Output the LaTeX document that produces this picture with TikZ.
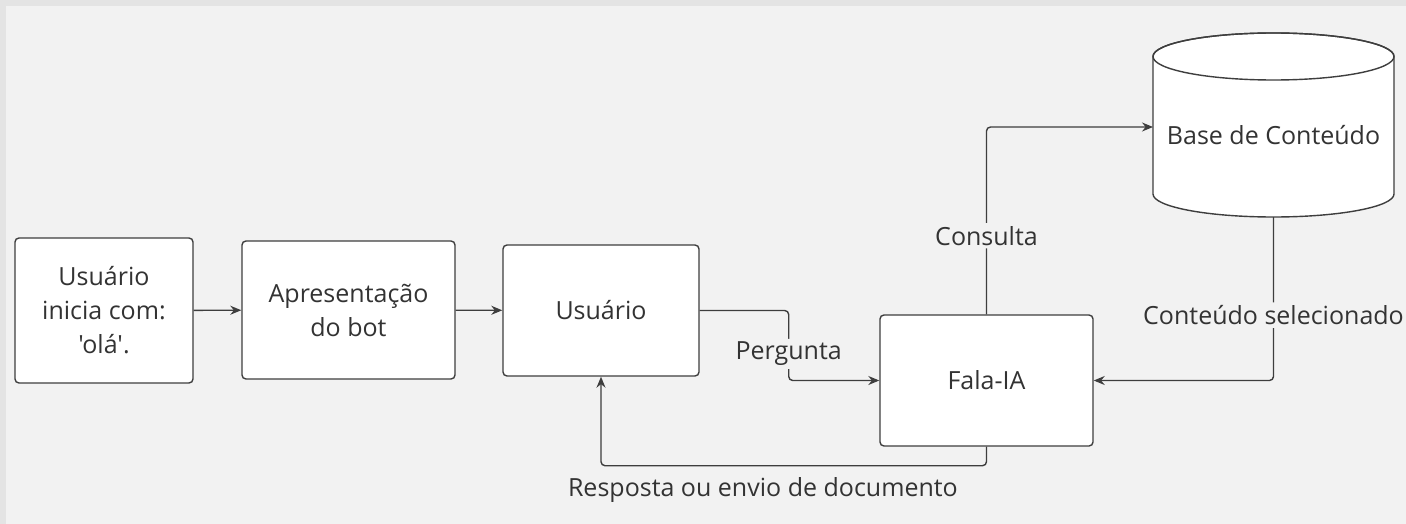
\documentclass[tikz,border=0pt]{standalone}
\usepackage{fontspec}
\setmainfont{Open Sans}[Ligatures=TeXOff]
\usetikzlibrary{arrows.meta,positioning}

\definecolor{bgc}{HTML}{F2F2F2}
\definecolor{edgec}{HTML}{E4E4E4}
\definecolor{linec}{HTML}{3E3E3E}
\definecolor{txtc}{HTML}{333333}

\tikzset{
  box/.style={rectangle, draw=linec, fill=white, line width=1.4pt, rounded corners=4pt, align=center, text=txtc},
  conn/.style={draw=linec, line width=1.4pt, rounded corners=4pt},
  arr/.style={conn, -{Stealth[length=11pt,width=9pt]}},
  lbl/.style={fill=bgc, text=txtc, inner sep=3pt}
}

\begin{document}
\begin{tikzpicture}[x=1pt, y=-1pt, font=\fontsize{25}{34}\selectfont]
      %\draw[help lines] (0,0) grid (1406,524);
      \useasboundingbox (0,0) rectangle (1406,524);
      \fill[edgec] (0,0) rectangle (1406,524);
      \fill[bgc] (6,6) rectangle (1406,524);

      \node [box, minimum width=178pt, minimum height=145pt] (ini) at (104,310.5) {Usuário\\inicia com:\\'olá'.};
      \node [box, minimum width=213pt, minimum height=138pt] (apr) at (348.5,310) {Apresentação\\do bot};
      \node [box, minimum width=196pt, minimum height=131pt] (usr) at (601,310.5) {Usuário};
      \node [box, minimum width=213pt, minimum height=131pt] (fala) at (986.5,380.5) {Fala-IA};

      % base de conteudo (cilindro)
      \filldraw[fill=white, draw=linec, line width=1.4pt] (1153,56.5) -- (1153,194)
          arc[start angle=180, end angle=360, x radius=120.5pt, y radius=23pt] -- (1394,56.5)
          arc[start angle=0, end angle=180, x radius=120.5pt, y radius=23.5pt];
      \draw[linec, line width=1.4pt] (1273.5,56.5) ellipse [x radius=120.5pt, y radius=23.5pt];
      \node [text=txtc] (base) at (1273.5,135) {Base de Conteúdo};
      \coordinate (basew) at (1153,127);
      \coordinate (bases) at (1273.5,217);

      \draw[arr] (ini) -- (apr);
      \draw[arr] (apr) -- (usr);
      \draw[arr] (usr.east) -- ++(89,0) |- (fala.west) node[lbl, pos=0.31] {Pergunta};
      \draw[arr] (fala.north) |- (basew) node[lbl, pos=0.21] {Consulta};
      \draw[arr] (bases) |- (fala.east) node[lbl, pos=0.3] {Conteúdo selecionado};
      \draw[arr] (fala.south) -- ++(0,19) -| (usr.south) node[text=txtc, below=8pt, pos=0.29] {Resposta ou envio de documento};

\end{tikzpicture}
\end{document}
